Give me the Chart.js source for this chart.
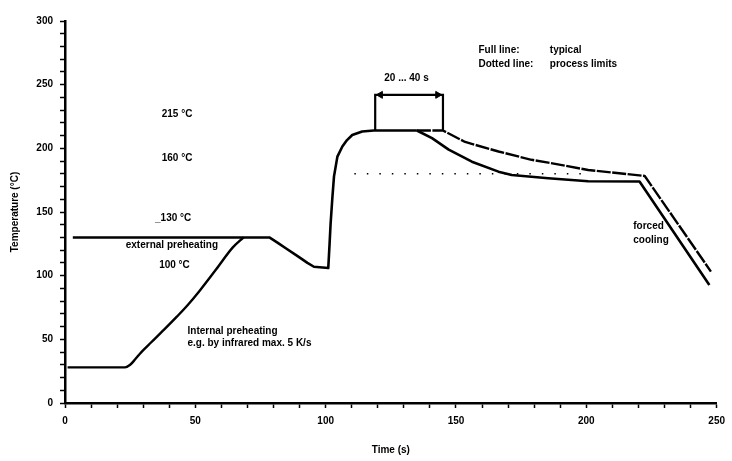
<!DOCTYPE html>
<html>
<head>
<meta charset="utf-8">
<script src="https://cdn.jsdelivr.net/npm/chart.js@4.4.0/dist/chart.umd.min.js"></script>
<style>
html,body{margin:0;padding:0;background:#fff;}
#wrap{width:732px;height:461px;position:relative;}
</style>
</head>
<body>
<div id="wrap"><canvas id="c" width="732" height="461"></canvas></div>
<script>
// ---- data ----
const externalTime = [3, 78.4, 81.5, 84.7, 89.8, 93, 95.5, 101.0, 101.5, 101.9, 102.6, 103.2, 104.5, 106.4, 108.2, 110.2, 114.0, 118.5, 135];
const externalTemp = [130, 130, 126, 121.5, 114.5, 110, 107, 106, 125, 141, 162, 178, 193.5, 201.4, 206.5, 210.5, 213.2, 214, 214];

const internalTime = [1, 23, 25, 27, 29.3, 33, 38.2, 43, 47.1, 51.6, 58, 64.3, 68.5];
const internalTemp = [28, 28, 30, 34.5, 40, 47.5, 58, 68, 77, 88, 105, 122, 130];

const typicalTime = [135, 140.8, 147.2, 156.1, 166.3, 171.4, 185.4, 200.7, 220.4, 247.2];
const typicalTemp = [214, 208, 199, 189.5, 181.7, 179, 176.5, 174.1, 174, 92.7];

const limitTime = [135, 145, 153.5, 166.3, 179, 185.4, 200.7, 222.4, 247.8];
const limitTemp = [214, 214, 205, 197.5, 191, 188.8, 183, 178.3, 103.2];

const windowTime = [119, 119, 145, 145];
const windowTemp = [214, 242, 242, 214];
const arrowTime = [121, 143];
const arrowTemp = [242, 242];

const dottedTime = [111, 200];
const dottedTemp = [180, 180];

const xTickLabels = [0, 50, 100, 150, 200, 250];
const yTickLabels = [0, 50, 100, 150, 200, 250, 300];

const noteTexts = ["215 °C", "160 °C", "_130 °C", "external preheating", "100 °C",
  "Internal preheating", "e.g. by infrared max. 5 K/s",
  "Full line:", "typical", "Dotted line:", "process limits",
  "20 ... 40 s", "forced", "cooling"];
const noteTime = [43, 43, 41.5, 41, 42, 47, 47, 158.6, 186, 158.6, 186, 131, 218, 218];
const noteTemp = [227, 192, 145, 124, 108, 56, 47, 277, 277, 266, 266, 255, 139, 128];
const noteAlign = ["center","center","center","center","center","left","left","left","left","left","left","center","left","left"];

// ---- chart ----
function pts(xs, ys){ return xs.map((x,i)=>({x:x, y:ys[i]})); }

const notesPlugin = {
  id: 'notes',
  afterDatasetsDraw(chart){
    const ctx = chart.ctx, xs = chart.scales.x, ys = chart.scales.y;
    ctx.save();
    ctx.fillStyle = '#000';
    ctx.font = 'bold 10px "Liberation Sans", Arial, sans-serif';
    ctx.textBaseline = 'middle';
    noteTexts.forEach((t,i)=>{
      ctx.textAlign = noteAlign[i];
      ctx.fillText(t, xs.getPixelForValue(noteTime[i]), ys.getPixelForValue(noteTemp[i]));
    });
    ctx.restore();
  }
};

const lineBase = {showLine:true, pointRadius:0, borderColor:'#000', fill:false, tension:0, borderJoinStyle:'round'};
const smooth = {cubicInterpolationMode:'monotone'};
const FONT = '"Liberation Sans", Arial, sans-serif';

new Chart(document.getElementById('c'), {
  type: 'scatter',
  data: {
    datasets: [
      Object.assign({}, lineBase, {data: pts(externalTime, externalTemp), borderWidth:2.6}),
      Object.assign({}, lineBase, smooth, {data: pts(internalTime, internalTemp), borderWidth:2.4}),
      Object.assign({}, lineBase, {data: pts(typicalTime, typicalTemp), borderWidth:2.6}),
      Object.assign({}, lineBase, {data: pts(limitTime, limitTemp), borderWidth:2.4, borderDash:[14,1.5]}),
      Object.assign({}, lineBase, {data: pts(windowTime, windowTemp), borderWidth:2.2, borderJoinStyle:'miter'}),
      {data: pts(arrowTime, arrowTemp), showLine:false, pointStyle:'triangle', pointRadius:4,
       pointRotation:[-90, 90], backgroundColor:'#000', borderColor:'#000'},
      Object.assign({}, lineBase, {data: pts(dottedTime, dottedTemp), borderWidth:1.6, borderDash:[1.5,11]})
    ]
  },
  options: {
    responsive:false,
    animation:false,
    events:[],
    layout:{padding:{top:21, right:13, left:0, bottom:0}},
    plugins:{legend:{display:false}, tooltip:{enabled:false}},
    scales:{
      x:{
        type:'linear', min:0, max:250,
        afterFit(s){ s.height = 58; },
        ticks:{stepSize:10, autoSkip:false, color:'#000', padding:7,
          font:{family:FONT, size:10, weight:'bold'},
          callback:(v)=> xTickLabels.includes(v) ? String(v) : ''},
        grid:{drawOnChartArea:false, color:'#000', tickLength:5, tickWidth:1.5},
        border:{display:true, color:'#000', width:2.5},
        title:{display:true, text:'Time (s)', color:'#000', padding:{top:0, bottom:5},
          font:{family:FONT, size:10, weight:'bold'}}
      },
      y:{
        min:0, max:300,
        afterFit(s){ s.width = 65; },
        ticks:{stepSize:10, autoSkip:false, color:'#000', padding:7,
          font:{family:FONT, size:10, weight:'bold'},
          callback:(v)=> yTickLabels.includes(v) ? String(v) : ''},
        grid:{drawOnChartArea:false, color:'#000', tickLength:5, tickWidth:1.5},
        border:{display:true, color:'#000', width:2.5},
        title:{display:true, text:'Temperature (°C)', color:'#000', padding:{top:9, bottom:0},
          font:{family:FONT, size:10, weight:'bold'}}
      }
    }
  },
  plugins:[notesPlugin]
});
</script>
</body>
</html>
